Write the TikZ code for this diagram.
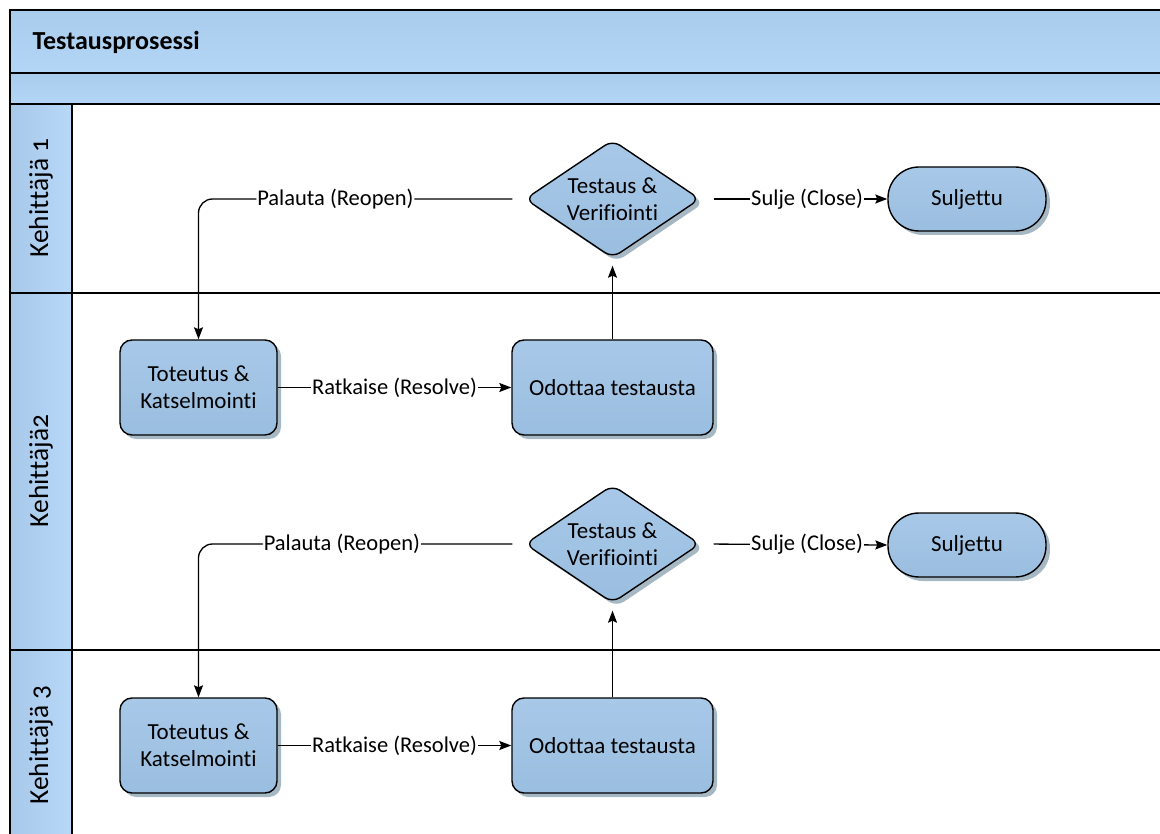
\documentclass[tikz,border=0pt]{standalone}
\usepackage{fontspec}
\setmainfont[Ligatures=NoCommon]{Carlito}
\newfontfamily\lanefont[Numbers=OldStyle,Ligatures=NoCommon]{Carlito}
\usetikzlibrary{arrows.meta,shapes.geometric,shadows}

\definecolor{bandtop}{RGB}{170,204,236}
\definecolor{bandbot}{RGB}{180,214,246}
\definecolor{laneleft}{RGB}{168,200,234}
\definecolor{laneright}{RGB}{184,216,248}
\definecolor{shapetop}{RGB}{168,200,232}
\definecolor{shapebot}{RGB}{154,190,224}
\definecolor{shadowc}{RGB}{166,184,196}

\tikzset{
  frameline/.style={line width=2.2pt, black},
  boxbase/.style={draw=black, line width=1.4pt, top color=shapetop, bottom color=shapebot,
    align=center, font=\fontsize{23}{27}\selectfont, inner sep=0pt,
    drop shadow={shadow xshift=4pt, shadow yshift=-4pt, fill=shadowc, opacity=1}},
  proc/.style={boxbase, rounded corners=12pt, minimum width=157pt, minimum height=95pt},
  waitbox/.style={proc, minimum width=201pt},
  decision/.style={boxbase, diamond, shape aspect=1.5, rounded corners=9pt,
    minimum width=175pt, minimum height=118pt},
  terminal/.style={boxbase, rounded corners=31pt, minimum width=158pt, minimum height=64pt},
  conn/.style={line width=1.3pt, -{Stealth[length=12pt, width=9pt, inset=2pt]}},
  lbl/.style={fill=white, inner sep=1pt, font=\fontsize{22.5}{26}\selectfont},
  lanelbl/.style={rotate=90, font=\lanefont\fontsize{27.5}{32}\selectfont}
}

\begin{document}
\begin{tikzpicture}[x=1pt, y=-1pt]
\useasboundingbox (0,0) rectangle (1160,834);

% pool header bands and lane label column
\fill[top color=bandtop, bottom color=bandbot] (10,10) rectangle (1170,73);
\fill[top color=bandtop, bottom color=bandbot] (10,73) rectangle (1170,104);
\fill[left color=laneleft, right color=laneright] (10,104) rectangle (72,845);

% pool and lane borders
\draw[frameline] (10,845) -- (10,10) -- (1170,10);
\draw[frameline] (10,73) -- (1170,73);
\draw[frameline] (10,104) -- (1170,104);
\draw[frameline] (72,104) -- (72,845);
\draw[frameline] (10,293) -- (1170,293);
\draw[frameline] (10,650) -- (1170,650);

\node[anchor=west, font=\bfseries\fontsize{26}{30}\selectfont] (title) at (29,42) {Testausprosessi};

\node[lanelbl] (lane1) at (41,198) {Kehittäjä 1};
\node[lanelbl] (lane2) at (41,471) {Kehittäjä2};
\node[lanelbl] (lane3) at (41,745) {Kehittäjä 3};

% first cycle
\node[decision] (d1) at (612.5,199) {Testaus \&\\Verifiointi};
\node[terminal] (s1) at (967,199) {Suljettu};
\node[proc] (t1) at (198.5,387.5) {Toteutus \&\\Katselmointi};
\node[waitbox] (o1) at (612.5,387.5) {Odottaa testausta};

\draw[conn, rounded corners=14pt, shorten <=12pt] (d1.west) -| (t1.north)
  node[lbl, pos=0.29] {Palauta (Reopen)};
\draw[conn] (t1.east) -- (o1.west) node[lbl, midway] {Ratkaise (Resolve)};
\draw[conn, shorten >=7pt] (o1.north) -- (d1.south);
\draw[conn, shorten <=13pt] (d1.east) -- (s1.west) node[lbl, pos=0.57] {Sulje (Close)};

% second cycle
\node[decision] (d2) at (612.5,544) {Testaus \&\\Verifiointi};
\node[terminal] (s2) at (967,545) {Suljettu};
\node[proc] (t2) at (198.5,745.5) {Toteutus \&\\Katselmointi};
\node[waitbox] (o2) at (612.5,745.5) {Odottaa testausta};

\draw[conn, rounded corners=14pt, shorten <=12pt] (d2.west) -| (t2.north)
  node[lbl, pos=0.28] {Palauta (Reopen)};
\draw[conn] (t2.east) -- (o2.west) node[lbl, midway] {Ratkaise (Resolve)};
\draw[conn, shorten >=7pt] (o2.north) -- (d2.south);
\draw[conn, shorten <=13pt] (d2.east) -- (s2.west) node[lbl, pos=0.57] {Sulje (Close)};
\end{tikzpicture}
\end{document}
